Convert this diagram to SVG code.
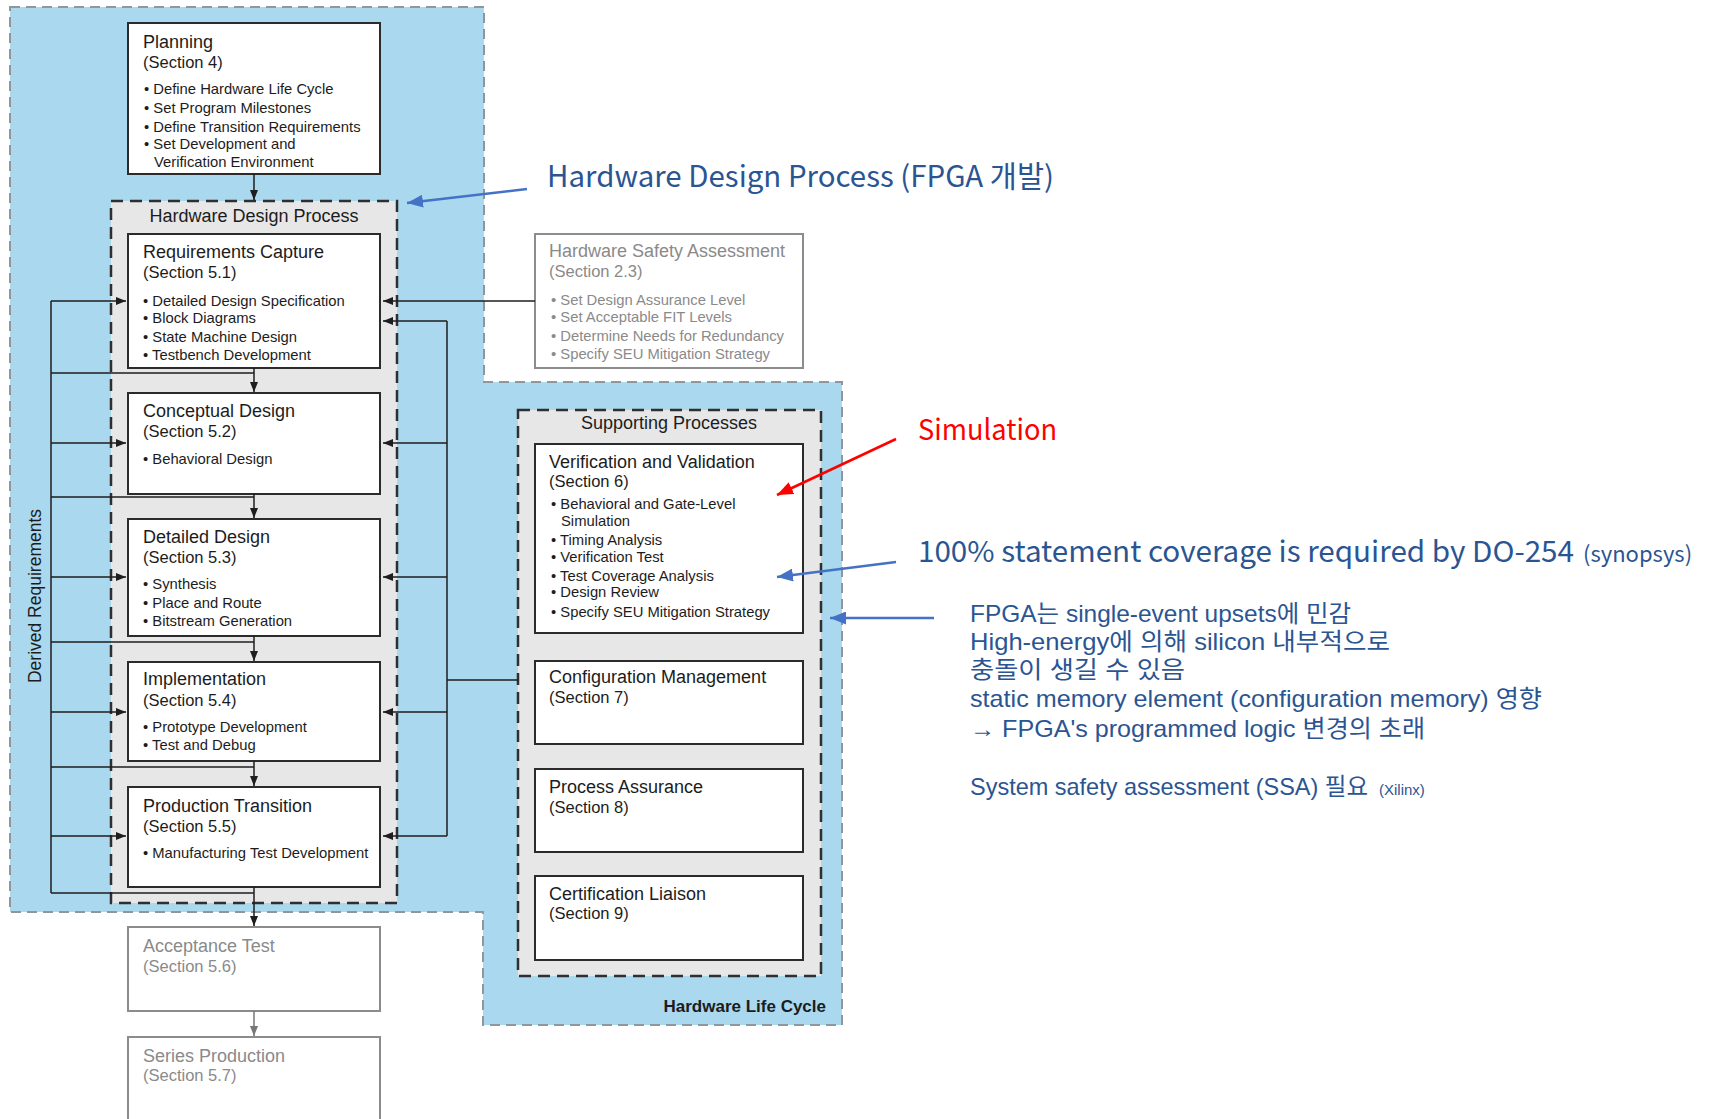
<svg xmlns="http://www.w3.org/2000/svg" width="1709" height="1119" viewBox="0 0 1709 1119">
<defs>
<style>
.bx{fill:#fff;stroke:#2b2b2b;stroke-width:2}
.bxg{fill:#fff;stroke:#8c8c8c;stroke-width:2}
.t{font-family:"Liberation Sans",Arial,sans-serif;fill:#1c1c1c}
.h{font-size:18px}
.s{font-size:16.5px}
.b{font-size:14.8px}
.gt{fill:#8a8a8a}
.ln{stroke:#1e1e1e;stroke-width:1.5;fill:none}
.lg{stroke:#777;stroke-width:1.5;fill:none}
.an{font-family:"Noto Sans CJK KR","Malgun Gothic",sans-serif;fill:#2b5592}
.ak{font-family:"Liberation Sans","Noto Sans CJK KR",sans-serif;fill:#2b5592}
</style>
<marker id="ah" viewBox="0 0 10 8" refX="10" refY="4" markerWidth="10" markerHeight="8" markerUnits="userSpaceOnUse" orient="auto"><path d="M0,0 L10,4 L0,8 z" fill="#1e1e1e"/></marker>
<marker id="ahg" viewBox="0 0 10 8" refX="10" refY="4" markerWidth="10" markerHeight="8" markerUnits="userSpaceOnUse" orient="auto"><path d="M0,0 L10,4 L0,8 z" fill="#777"/></marker>
<marker id="ab" viewBox="0 0 16 13" refX="16" refY="6.5" markerWidth="16" markerHeight="13" markerUnits="userSpaceOnUse" orient="auto"><path d="M0,0 L16,6.5 L0,13 z" fill="#4472c4"/></marker>
<marker id="ar" viewBox="0 0 16 13" refX="16" refY="6.5" markerWidth="16" markerHeight="13" markerUnits="userSpaceOnUse" orient="auto"><path d="M0,0 L16,6.5 L0,13 z" fill="#ff0000"/></marker>
</defs>

<g id="hardware-life-cycle">
<polygon points="10,7 484,7 484,382 842,382 842,1025 483,1025 483,912 10,912" fill="#a9d8ef" stroke="#8e979e" stroke-width="2" stroke-dasharray="10 6"/>
<text class="t" x="826" y="1012" text-anchor="end" font-size="17" font-weight="bold" fill="#2a2a2a">Hardware Life Cycle</text>
</g>

<g id="hardware-design-process">
<rect x="111" y="201" width="286" height="702" fill="#e7e7e7" stroke="#2f2f2f" stroke-width="2.5" stroke-dasharray="12 7"/>
<text class="t" x="254" y="222" text-anchor="middle" font-size="18" fill="#2e2e2e">Hardware Design Process</text>
</g>

<g id="supporting-processes">
<rect x="518" y="410" width="303" height="566" fill="#e7e7e7" stroke="#2f2f2f" stroke-width="2.5" stroke-dasharray="12 7"/>
<text class="t" x="669" y="429" text-anchor="middle" font-size="18" fill="#2e2e2e">Supporting Processes</text>
</g>

<g id="derived-requirements">
<text class="t" transform="translate(41,596) rotate(-90)" text-anchor="middle" font-size="17.5" fill="#2e2e2e">Derived Requirements</text>
</g>

<g id="planning">
<rect class="bx" x="128" y="23" width="252" height="151"/>
<text class="t h" x="143" y="48">Planning</text>
<text class="t s" x="143" y="68">(Section 4)</text>
<text class="t b" x="144" y="94">• Define Hardware Life Cycle</text>
<text class="t b" x="144" y="113">• Set Program Milestones</text>
<text class="t b" x="144" y="132">• Define Transition Requirements</text>
<text class="t b" x="144" y="149">• Set Development and</text>
<text class="t b" x="154" y="167">Verification Environment</text>
</g>

<g id="requirements-capture">
<rect class="bx" x="128" y="234" width="252" height="134"/>
<text class="t h" x="143" y="258">Requirements Capture</text>
<text class="t s" x="143" y="278">(Section 5.1)</text>
<text class="t b" x="143" y="306">• Detailed Design Specification</text>
<text class="t b" x="143" y="323">• Block Diagrams</text>
<text class="t b" x="143" y="342">• State Machine Design</text>
<text class="t b" x="143" y="360">• Testbench Development</text>
</g>

<g id="conceptual-design">
<rect class="bx" x="128" y="393" width="252" height="101"/>
<text class="t h" x="143" y="417">Conceptual Design</text>
<text class="t s" x="143" y="437">(Section 5.2)</text>
<text class="t b" x="143" y="464">• Behavioral Design</text>
</g>

<g id="detailed-design">
<rect class="bx" x="128" y="519" width="252" height="117"/>
<text class="t h" x="143" y="543">Detailed Design</text>
<text class="t s" x="143" y="563">(Section 5.3)</text>
<text class="t b" x="143" y="589">• Synthesis</text>
<text class="t b" x="143" y="608">• Place and Route</text>
<text class="t b" x="143" y="626">• Bitstream Generation</text>
</g>

<g id="implementation">
<rect class="bx" x="128" y="662" width="252" height="99"/>
<text class="t h" x="143" y="685">Implementation</text>
<text class="t s" x="143" y="706">(Section 5.4)</text>
<text class="t b" x="143" y="732">• Prototype Development</text>
<text class="t b" x="143" y="750">• Test and Debug</text>
</g>

<g id="production-transition">
<rect class="bx" x="128" y="787" width="252" height="100"/>
<text class="t h" x="143" y="812">Production Transition</text>
<text class="t s" x="143" y="832">(Section 5.5)</text>
<text class="t b" x="143" y="858">• Manufacturing Test Development</text>
</g>

<g id="acceptance-test">
<rect class="bxg" x="128" y="927" width="252" height="84"/>
<text class="t h gt" x="143" y="952">Acceptance Test</text>
<text class="t s gt" x="143" y="972">(Section 5.6)</text>
</g>

<g id="series-production">
<rect class="bxg" x="128" y="1037" width="252" height="90"/>
<text class="t h gt" x="143" y="1062">Series Production</text>
<text class="t s gt" x="143" y="1081">(Section 5.7)</text>
</g>

<g id="hardware-safety-assessment">
<rect class="bxg" x="535" y="234" width="268" height="134"/>
<text class="t h gt" x="549" y="257">Hardware Safety Assessment</text>
<text class="t s gt" x="549" y="277">(Section 2.3)</text>
<text class="t b gt" x="551" y="305">• Set Design Assurance Level</text>
<text class="t b gt" x="551" y="322">• Set Acceptable FIT Levels</text>
<text class="t b gt" x="551" y="341">• Determine Needs for Redundancy</text>
<text class="t b gt" x="551" y="359">• Specify SEU Mitigation Strategy</text>
</g>

<g id="verification-validation">
<rect class="bx" x="535" y="444" width="268" height="189"/>
<text class="t h" x="549" y="468">Verification and Validation</text>
<text class="t s" x="549" y="487">(Section 6)</text>
<text class="t b" x="551" y="509">• Behavioral and Gate-Level</text>
<text class="t b" x="561" y="526">Simulation</text>
<text class="t b" x="551" y="545">• Timing Analysis</text>
<text class="t b" x="551" y="562">• Verification Test</text>
<text class="t b" x="551" y="581">• Test Coverage Analysis</text>
<text class="t b" x="551" y="597">• Design Review</text>
<text class="t b" x="551" y="617">• Specify SEU Mitigation Strategy</text>
</g>

<g id="configuration-management">
<rect class="bx" x="535" y="661" width="268" height="83"/>
<text class="t h" x="549" y="683">Configuration Management</text>
<text class="t s" x="549" y="703">(Section 7)</text>
</g>

<g id="process-assurance">
<rect class="bx" x="535" y="769" width="268" height="83"/>
<text class="t h" x="549" y="793">Process Assurance</text>
<text class="t s" x="549" y="813">(Section 8)</text>
</g>

<g id="certification-liaison">
<rect class="bx" x="535" y="876" width="268" height="84"/>
<text class="t h" x="549" y="900">Certification Liaison</text>
<text class="t s" x="549" y="919">(Section 9)</text>
</g>

<g id="connectors">
<path class="ln" d="M254,174 V200" marker-end="url(#ah)"/>
<path class="ln" d="M254,368 V392" marker-end="url(#ah)"/>
<path class="ln" d="M254,494 V518" marker-end="url(#ah)"/>
<path class="ln" d="M254,636 V661" marker-end="url(#ah)"/>
<path class="ln" d="M254,761 V786" marker-end="url(#ah)"/>
<path class="ln" d="M254,887 V926" marker-end="url(#ah)"/>
<path class="lg" d="M254,1011 V1036" marker-end="url(#ahg)"/>
<path class="ln" d="M51,301 V893"/>
<path class="ln" d="M51,301 H126" marker-end="url(#ah)"/>
<path class="ln" d="M51,443 H126" marker-end="url(#ah)"/>
<path class="ln" d="M51,577 H126" marker-end="url(#ah)"/>
<path class="ln" d="M51,712 H126" marker-end="url(#ah)"/>
<path class="ln" d="M51,836 H126" marker-end="url(#ah)"/>
<path class="ln" d="M51,373 H254"/>
<path class="ln" d="M51,497 H254"/>
<path class="ln" d="M51,642 H254"/>
<path class="ln" d="M51,767 H254"/>
<path class="ln" d="M51,893 H254"/>
<path class="ln" d="M535,301 H383" marker-end="url(#ah)"/>
<path class="ln" d="M447,321 V836"/>
<path class="ln" d="M447,321 H383" marker-end="url(#ah)"/>
<path class="ln" d="M447,443 H383" marker-end="url(#ah)"/>
<path class="ln" d="M447,577 H383" marker-end="url(#ah)"/>
<path class="ln" d="M447,712 H383" marker-end="url(#ah)"/>
<path class="ln" d="M447,836 H383" marker-end="url(#ah)"/>
<path class="ln" d="M447,680 H518"/>
<path d="M527,189 L407,203" stroke="#4472c4" stroke-width="2.5" fill="none" marker-end="url(#ab)"/>
<path d="M896,439 L777,495" stroke="#ff0000" stroke-width="2.5" fill="none" marker-end="url(#ar)"/>
<path d="M896,562 L777,577" stroke="#4472c4" stroke-width="2.5" fill="none" marker-end="url(#ab)"/>
<path d="M934,618 L830,618" stroke="#4472c4" stroke-width="2.5" fill="none" marker-end="url(#ab)"/>
</g>

<g id="annotations">
<text class="an" x="547" y="187" font-size="29.5" textLength="507" lengthAdjust="spacingAndGlyphs">Hardware Design Process (FPGA 개발)</text>
<text class="an" x="918" y="440" font-size="28.5" style="fill:#ff0000" textLength="139" lengthAdjust="spacingAndGlyphs">Simulation</text>
<text class="an" x="918" y="562" font-size="29"><tspan textLength="656" lengthAdjust="spacingAndGlyphs">100% statement coverage is required by DO-254</tspan><tspan x="1583" font-size="22">(synopsys)</tspan></text>
<text class="ak" x="970" y="622" font-size="24" textLength="381" lengthAdjust="spacingAndGlyphs">FPGA는 single-event upsets에 민감</text>
<text class="ak" x="970" y="650" font-size="24" textLength="420" lengthAdjust="spacingAndGlyphs">High-energy에 의해 silicon 내부적으로</text>
<text class="ak" x="970" y="678" font-size="24" textLength="215" lengthAdjust="spacingAndGlyphs">충돌이 생길 수 있음</text>
<text class="ak" x="970" y="707" font-size="24" textLength="572" lengthAdjust="spacingAndGlyphs">static memory element (configuration memory) 영향</text>
<text class="ak" x="970" y="737" font-size="24" textLength="455" lengthAdjust="spacingAndGlyphs">→ FPGA's programmed logic 변경의 초래</text>
<text class="ak" x="970" y="795" font-size="24"><tspan textLength="398" lengthAdjust="spacingAndGlyphs">System safety assessment (SSA) 필요</tspan><tspan x="1379" font-size="15">(Xilinx)</tspan></text>
</g>
</svg>
